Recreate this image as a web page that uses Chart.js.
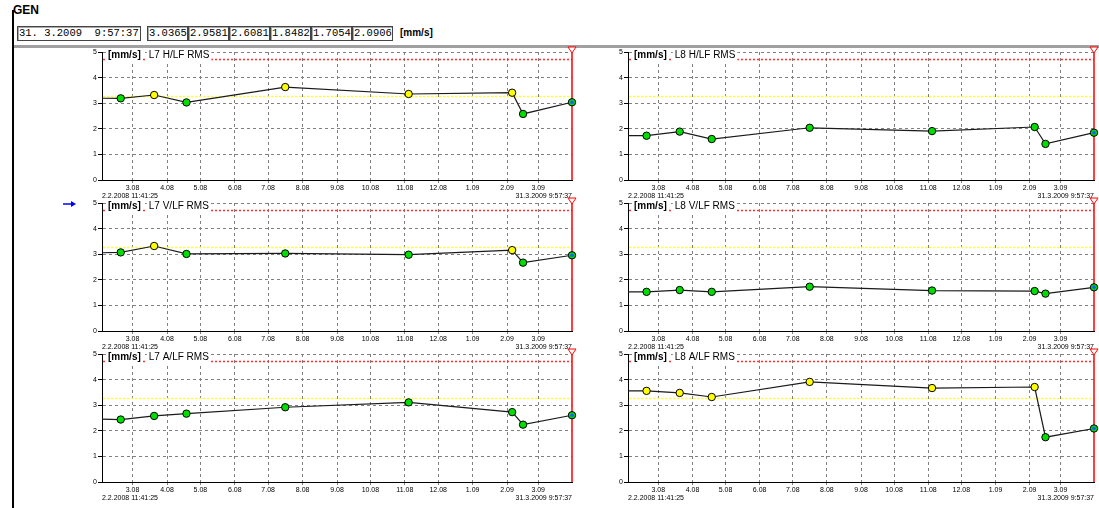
<!DOCTYPE html>
<html>
<head>
<meta charset="utf-8">
<script src="https://cdn.jsdelivr.net/npm/chart.js@4.4.0/dist/chart.umd.min.js"></script>
<style>
  body { margin: 0; width: 1099px; height: 508px; background: #fff; position: relative; overflow: hidden;
         font-family: 'Liberation Sans', Arial, sans-serif; }
  #gen { position: absolute; left: 13px; top: 3px; font-weight: bold; font-size: 12px; }
  .box { position: absolute; top: 26px; height: 13px; line-height: 13px; border: 1px solid #444;
         box-shadow: inset 1px 1px 0 #aaa; font-family: 'Liberation Mono', monospace; font-size: 10.5px;
         white-space: pre; padding: 0 1px; box-sizing: content-box; overflow: hidden; }
  #unit { position: absolute; left: 400px; top: 27px; font-weight: bold; font-size: 10px; }
  #sep { position: absolute; left: 12px; top: 45px; width: 1087px; height: 3px; background: #a0a0a0; }
  #frame { position: absolute; left: 12px; top: 10px; width: 2px; height: 498px; background: #000; }
  #arrow { position: absolute; left: 60px; top: 199px; }
  canvas { position: absolute; }
</style>
</head>
<body>
<div id="gen">GEN</div>
<div class="box" style="left:17px;width:120px">31. 3.2009  9:57:37</div>
<div id="vals"></div>
<div id="unit">[mm/s]</div>
<div id="sep"></div>
<div id="frame"></div>
<svg id="arrow" width="20" height="10">
  <line x1="3" y1="5" x2="14" y2="5" stroke="#0000ff" stroke-width="1.5"/>
  <polygon points="16,5 11,2 11,8" fill="#0000ff"/>
</svg>
<canvas id="c0" width="510" height="162" style="left:70px;top:44px"></canvas>
<canvas id="c1" width="503" height="162" style="left:596px;top:44px"></canvas>
<canvas id="c2" width="510" height="162" style="left:70px;top:195px"></canvas>
<canvas id="c3" width="503" height="162" style="left:596px;top:195px"></canvas>
<canvas id="c4" width="510" height="162" style="left:70px;top:346px"></canvas>
<canvas id="c5" width="503" height="162" style="left:596px;top:346px"></canvas>
<script>
// trend window and measurement times (first one lies before the window)
const startTime = '2008-02-02T11:41:25Z';
const endTime = '2009-03-31T09:57:37Z';
const startLabel = '2.2.2008 11:41:25';
const endLabel = '31.3.2009 9:57:37';
const measureTimes = ['2008-01-10T12:00:00Z', '2008-02-19T08:00:00Z', '2008-03-20T10:00:00Z',
  '2008-04-18T12:00:00Z', '2008-07-16T09:00:00Z', '2008-11-04T10:00:00Z',
  '2009-02-05T13:00:00Z', '2009-02-15T09:00:00Z', endTime];
const monthLabels = ['3.08', '4.08', '5.08', '6.08', '7.08', '8.08', '9.08', '10.08',
  '11.08', '12.08', '1.09', '2.09', '3.09'];

// RMS velocity [mm/s]
const l7h = [3.20, 3.19, 3.32, 3.03, 3.63, 3.36, 3.41, 2.58, 3.0365];
const l7v = [3.04, 3.07, 3.32, 3.01, 3.03, 2.98, 3.16, 2.67, 2.9581];
const l7a = [2.48, 2.44, 2.58, 2.67, 2.92, 3.11, 2.73, 2.24, 2.6081];
const l8h = [1.73, 1.73, 1.89, 1.60, 2.04, 1.91, 2.07, 1.41, 1.8482];
const l8v = [1.53, 1.53, 1.60, 1.53, 1.73, 1.58, 1.56, 1.46, 1.7054];
const l8a = [3.56, 3.56, 3.48, 3.32, 3.91, 3.67, 3.71, 1.75, 2.0906];

// warning state of each measurement (1 = warning)
const l7hWarn = [0, 0, 1, 0, 1, 1, 1, 0, 0];
const l7vWarn = [0, 0, 1, 0, 0, 0, 1, 0, 0];
const l7aWarn = [0, 0, 0, 0, 0, 0, 0, 0, 0];
const l8hWarn = [0, 0, 0, 0, 0, 0, 0, 0, 0];
const l8vWarn = [0, 0, 0, 0, 0, 0, 0, 0, 0];
const l8aWarn = [1, 1, 1, 1, 1, 1, 1, 0, 0];

const alertLevel = 4.72;
const warnLevel = 3.28;

const DAY = 86400000;
const t0 = Date.parse(startTime);
const dayOf = t => (Date.parse(t) - t0) / DAY;
const monthDay = l => {
  const [m, y] = l.split('.').map(Number);
  return (Date.UTC(2000 + y, m - 1, 1) - t0) / DAY;
};

const FONT = "'Liberation Sans', Arial, sans-serif";

// current values in the header
const valsDiv = document.getElementById('vals');
[l7h, l7v, l7a, l8h, l8v, l8a].forEach((s, i) => {
  const b = document.createElement('div');
  b.className = 'box';
  b.style.left = (147 + i * 41) + 'px';
  b.style.width = '37px';
  b.textContent = s[s.length - 1].toFixed(4);
  valsDiv.appendChild(b);
});

const panelDecor = {
  id: 'panelDecor',
  beforeDatasetsDraw(chart) {
    const { ctx, chartArea: a, scales: { y } } = chart;
    ctx.save();
    ctx.lineWidth = 1.5;
    ctx.setLineDash([2, 2]);
    [[alertLevel, '#ff3030'], [warnLevel, '#ffff30']].forEach(([v, c]) => {
      const py = Math.round(y.getPixelForValue(v)) + 0.5;
      ctx.strokeStyle = c;
      ctx.beginPath();
      ctx.moveTo(a.left + 1, py);
      ctx.lineTo(a.right, py);
      ctx.stroke();
    });
    // cursor at the last measurement
    ctx.setLineDash([]);
    ctx.strokeStyle = '#ff0000';
    ctx.lineWidth = 1.5;
    ctx.beginPath();
    ctx.moveTo(a.right, a.top);
    ctx.lineTo(a.right, a.bottom);
    ctx.stroke();
    ctx.lineWidth = 1;
    ctx.fillStyle = '#fff';
    ctx.beginPath();
    ctx.moveTo(a.right - 4, a.top - 5);
    ctx.lineTo(a.right + 4, a.top - 5);
    ctx.lineTo(a.right, a.top + 1);
    ctx.closePath();
    ctx.fill();
    ctx.stroke();
    ctx.restore();
  },
  afterDatasetsDraw(chart) {
    const pts = chart.getDatasetMeta(0).data;
    const p = pts[pts.length - 1];
    const ctx = chart.ctx;
    ctx.save();
    ctx.fillStyle = '#1d5cff';
    ctx.beginPath();
    ctx.arc(p.x, p.y, 1.8, 0, Math.PI * 2);
    ctx.fill();
    ctx.restore();
  },
  afterDraw(chart, args, opts) {
    const { ctx, chartArea: a } = chart;
    ctx.save();
    ctx.textBaseline = 'alphabetic';
    // unit and channel name over the plot
    ctx.font = 'bold 10px ' + FONT;
    const x1 = a.left + 6;
    const w1 = ctx.measureText('[mm/s]').width;
    ctx.font = '10px ' + FONT;
    const x2 = x1 + w1 + 8;
    const w2 = ctx.measureText(opts.name).width;
    ctx.fillStyle = '#fff';
    ctx.fillRect(x1 - 1, a.top - 3, w1 + 3, 12);
    ctx.fillRect(x2 - 2, a.top - 3, w2 + 4, 12);
    ctx.fillStyle = '#000';
    ctx.font = 'bold 10px ' + FONT;
    ctx.fillText('[mm/s]', x1, a.top + 6);
    ctx.font = '10px ' + FONT;
    ctx.fillText(opts.name, x2, a.top + 6);
    // window limits under the time axis
    ctx.font = '7px ' + FONT;
    ctx.textAlign = 'left';
    ctx.fillText(startLabel, a.left, a.bottom + 18);
    ctx.textAlign = 'right';
    ctx.fillText(endLabel, a.right, a.bottom + 18);
    ctx.restore();
  }
};

function makePanel(id, name, values, warn, padRight) {
  return new Chart(document.getElementById(id), {
    type: 'line',
    data: {
      datasets: [{
        data: measureTimes.map((t, i) => ({ x: dayOf(t), y: values[i] })),
        borderColor: '#1a1a1a',
        borderWidth: 1.2,
        tension: 0,
        pointRadius: 3.7,
        pointBorderWidth: 1,
        pointBorderColor: '#000',
        pointBackgroundColor: warn.map(w => w ? '#ffff00' : '#00dd00'),
        clip: { left: 0, top: 6, right: 6, bottom: 6 }
      }]
    },
    options: {
      responsive: false,
      animation: false,
      events: [],
      layout: { padding: { top: 8, left: 0, right: padRight, bottom: 0 } },
      plugins: { legend: { display: false }, tooltip: { enabled: false }, panelDecor: { name } },
      scales: {
        x: {
          type: 'linear',
          min: 0,
          max: dayOf(endTime),
          afterBuildTicks: s => { s.ticks = monthLabels.map(l => ({ value: monthDay(l) })); },
          afterFit: s => { s.height = 26; },
          ticks: {
            autoSkip: false, maxRotation: 0, padding: 1, color: '#000',
            font: { size: 7, family: FONT },
            callback: (v, i) => monthLabels[i]
          },
          grid: { color: '#808080', tickColor: '#808080', tickLength: 3 },
          border: { color: '#000', width: 1, dash: [3, 3] }
        },
        y: {
          min: 0,
          max: 5,
          afterFit: s => { s.width = 32; },
          ticks: { stepSize: 1, padding: 1, color: '#000', font: { size: 7, family: FONT } },
          grid: { color: '#808080', tickColor: '#000', tickLength: 4 },
          border: { color: '#000', width: 1, dash: [3, 3] }
        }
      }
    },
    plugins: [panelDecor]
  });
}

makePanel('c0', 'L7 H/LF RMS', l7h, l7hWarn, 8);
makePanel('c1', 'L8 H/LF RMS', l8h, l8hWarn, 2);
makePanel('c2', 'L7 V/LF RMS', l7v, l7vWarn, 8);
makePanel('c3', 'L8 V/LF RMS', l8v, l8vWarn, 2);
makePanel('c4', 'L7 A/LF RMS', l7a, l7aWarn, 8);
makePanel('c5', 'L8 A/LF RMS', l8a, l8aWarn, 2);
</script>
</body>
</html>
